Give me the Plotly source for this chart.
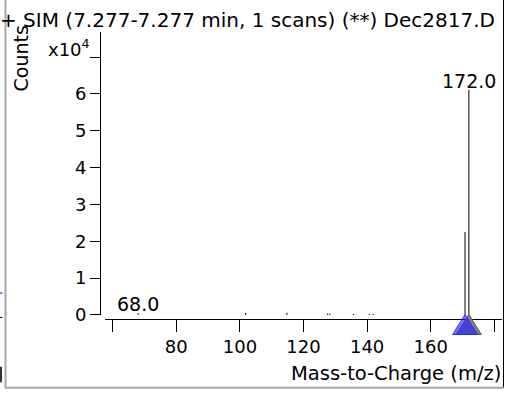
import plotly.graph_objects as go

# ---- data ----
mz = [68.0, 101.8, 114.8, 127.6, 128.3, 135.7, 140.7, 141.9, 170.8, 172.0]
counts = [500, 600, 600, 400, 400, 300, 300, 300, 22500, 61100]
label_mz = [68.0, 172.0]
label_counts = [500, 61100]
label_text = ["68.0", "172.0"]
x_tickvals = [60, 80, 100, 120, 140, 160, 180]
x_ticktext = ["", "80", "100", "120", "140", "160", ""]
y_tickvals = [0, 10000, 20000, 30000, 40000, 50000, 60000, 70000]
y_ticktext = ["0", "1", "2", "3", "4", "5", "6", ""]
marker_mz = [172.0, 170.8]   # gray (behind), blue (front)

W, H = 515, 403
FONT = "DejaVu Sans"

def px(x):
    return x / W

def py(y):
    return 1 - y / H

xs, ys = [], []
for m, c in zip(mz, counts):
    xs += [m, m, None]
    ys += [0, c, None]

fig = go.Figure()
fig.add_trace(go.Scatter(x=xs, y=ys, mode="lines",
                         line=dict(color="black", width=1),
                         hoverinfo="skip", showlegend=False))

annotations = []
for m, c, t in zip(label_mz, label_counts, label_text):
    annotations.append(dict(x=m, y=c, xref="x", yref="y", text=t,
                            showarrow=False, xanchor="center", yanchor="bottom",
                            yshift=-4,
                            font=dict(family=FONT, size=19, color="black")))

annotations += [
    dict(x=px(-2), y=py(20.5), xref="paper", yref="paper", xanchor="left", yanchor="middle",
         text="+ SIM (7.277-7.277 min, 1 scans) (**) Dec2817.D", showarrow=False,
         font=dict(family=FONT, size=20, color="black")),
    dict(x=px(503), y=py(383), xref="paper", yref="paper", xanchor="right", yanchor="middle",
         text="Mass-to-Charge (m/z)", showarrow=False,
         font=dict(family=FONT, size=19.5, color="black")),
    dict(x=px(21), y=py(60), xref="paper", yref="paper", xanchor="center", yanchor="middle",
         text="Counts", textangle=-90, showarrow=False,
         font=dict(family=FONT, size=19, color="black")),
    dict(x=px(92), y=py(49), xref="paper", yref="paper", xanchor="right", yanchor="middle",
         text="x10<sup>4</sup>", showarrow=False,
         font=dict(family=FONT, size=18, color="black")),
]

shapes = []
# triangles at the peak (anchored at the data x, on the baseline in paper y)
tri = "M0,0 L-12.5,-20 L12.5,-20 Z"
shapes.append(dict(type="path", xref="x", yref="paper", xsizemode="pixel", ysizemode="pixel",
                   xanchor=marker_mz[0], yanchor=py(322.5), path=tri,
                   fillcolor="#808080", line=dict(color="#5a5a5a", width=1)))
shapes.append(dict(type="path", xref="x", yref="paper", xsizemode="pixel", ysizemode="pixel",
                   xanchor=marker_mz[1], yanchor=py(322.5), path=tri,
                   fillcolor="rgba(30,30,255,0.62)", line=dict(color="rgba(40,40,255,0.9)", width=1)))
# frame
shapes += [
    dict(type="line", xref="paper", yref="paper", x0=px(5.5), x1=px(5.5), y0=py(0), y1=py(398),
         line=dict(color="#a8a8a8", width=2)),
    dict(type="line", xref="paper", yref="paper", x0=px(5), x1=px(504), y0=py(397.5), y1=py(397.5),
         line=dict(color="#a8a8a8", width=2)),
    dict(type="line", xref="paper", yref="paper", x0=px(503.5), x1=px(503.5), y0=py(0), y1=py(397),
         line=dict(color="black", width=1)),
    # fragments of neighbouring panel at the far left
    dict(type="line", xref="paper", yref="paper", x0=0, x1=px(2.5), y0=py(300.5), y1=py(300.5),
         line=dict(color="blue", width=1)),
    dict(type="line", xref="paper", yref="paper", x0=0, x1=px(2.5), y0=py(325.5), y1=py(325.5),
         line=dict(color="black", width=1)),
    dict(type="line", xref="paper", yref="paper", x0=px(1), x1=px(1), y0=py(376), y1=py(392),
         line=dict(color="#333", width=2)),
]

fig.update_layout(
    width=W, height=H,
    margin=dict(l=0, r=0, t=0, b=0),
    paper_bgcolor="white", plot_bgcolor="white",
    showlegend=False,
    annotations=annotations,
    shapes=shapes,
    xaxis=dict(domain=[px(105), px(502)], range=[57.58, 182.42],
               anchor="free", position=py(327),
               showline=True, linecolor="black", linewidth=1,
               showgrid=False, zeroline=False,
               tickmode="array", tickvals=x_tickvals, ticktext=x_ticktext,
               ticks="outside", ticklen=12, tickcolor="black", tickwidth=1,
               tickfont=dict(family=FONT, size=18, color="black")),
    yaxis=dict(domain=[py(323), py(33)], range=[0, 76760],
               anchor="free", position=px(100),
               showline=True, linecolor="black", linewidth=1,
               showgrid=False, zeroline=False,
               tickmode="array", tickvals=y_tickvals, ticktext=y_ticktext,
               ticks="outside", ticklen=10, tickcolor="black", tickwidth=1,
               ticklabelstandoff=0,
               tickfont=dict(family=FONT, size=18, color="black")),
)

post = ("document.documentElement.style.margin='0px';"
        "document.body.style.margin='0px';"
        "document.documentElement.style.overflow='hidden';"
        "document.body.style.overflow='hidden';")

fig.write_html("out.html", config={"displayModeBar": False}, post_script=post)
